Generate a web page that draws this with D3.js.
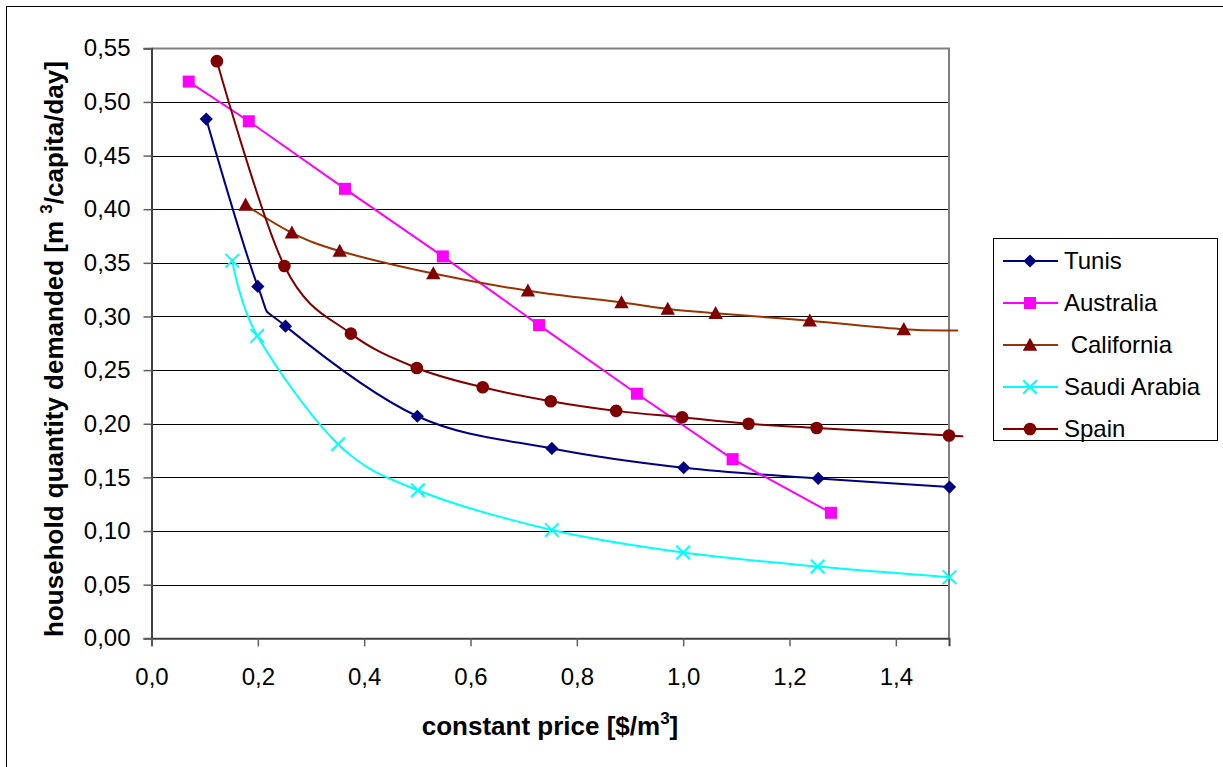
<!DOCTYPE html>
<html>
<head>
<meta charset="utf-8">
<script src="https://cdn.jsdelivr.net/npm/d3@7"></script>
<style>
  body { margin: 0; background: #fff; }
  svg { display: block; font-family: "Liberation Sans", Arial, sans-serif; }
</style>
</head>
<body>
<svg id="chart" width="1223" height="767"></svg>
<script>
// values
const tunisX = [0.103, 0.200, 0.252, 0.500, 0.753, 1.001, 1.254, 1.501];
const tunisY = [0.484, 0.328, 0.291, 0.207, 0.177, 0.159, 0.149, 0.141];

const australiaX = [0.070, 0.183, 0.364, 0.548, 0.729, 0.913, 1.093, 1.278];
const australiaY = [0.519, 0.482, 0.419, 0.356, 0.292, 0.228, 0.167, 0.117];

const californiaX = [0.177, 0.264, 0.354, 0.530, 0.708, 0.884, 0.971, 1.061, 1.238, 1.415];
const californiaY = [0.404, 0.378, 0.361, 0.340, 0.324, 0.313, 0.307, 0.303, 0.296, 0.288];
// line runs a bit past the last tick without a marker
const californiaTail = [1.517, 0.287];

const saudiX = [0.152, 0.199, 0.351, 0.501, 0.753, 1.000, 1.253, 1.501];
const saudiY = [0.352, 0.282, 0.181, 0.138, 0.101, 0.080, 0.067, 0.057];

const spainX = [0.123, 0.250, 0.375, 0.499, 0.623, 0.751, 0.874, 0.998, 1.123, 1.251, 1.500];
const spainY = [0.538, 0.347, 0.284, 0.252, 0.234, 0.221, 0.212, 0.206, 0.200, 0.196, 0.189];
const spainTail = [1.517, 0.1887];

const xTicks = [0, 0.2, 0.4, 0.6, 0.8, 1.0, 1.2, 1.4];
const xTickLabels = ["0,0", "0,2", "0,4", "0,6", "0,8", "1,0", "1,2", "1,4"];
const yTicks = [0, 0.05, 0.10, 0.15, 0.20, 0.25, 0.30, 0.35, 0.40, 0.45, 0.50, 0.55];
const yTickLabels = ["0,00", "0,05", "0,10", "0,15", "0,20", "0,25", "0,30", "0,35", "0,40", "0,45", "0,50", "0,55"];

const zip = (xs, ys) => xs.map((x, i) => [x, ys[i]]);

const series = [
  {name: "Tunis", pts: zip(tunisX, tunisY), tail: null, line: "#000080", fill: "#000080", marker: "diamond", smooth: true},
  {name: "Australia", pts: zip(australiaX, australiaY), tail: null, line: "#ff00ff", fill: "#ff00ff", marker: "square", smooth: false},
  {name: " California", pts: zip(californiaX, californiaY), tail: californiaTail, line: "#993300", fill: "#800000", marker: "triangle", smooth: true},
  {name: "Saudi Arabia", pts: zip(saudiX, saudiY), tail: null, line: "#00ffff", fill: "#00ffff", marker: "cross", smooth: true},
  {name: "Spain", pts: zip(spainX, spainY), tail: spainTail, line: "#800000", fill: "#800000", marker: "circle", smooth: true}
];

const svg = d3.select("#chart");

// outer chart frame (right/bottom edges fall outside the picture)
svg.append("rect")
  .attr("x", 6.5).attr("y", 6.5)
  .attr("width", 1230).attr("height", 780)
  .attr("fill", "none").attr("stroke", "#000");

const plot = {left: 151.5, right: 949, top: 48.3, bottom: 638.3};

const x = d3.scaleLinear().domain([0, 1.5]).range([plot.left, plot.right]);
const y = d3.scaleLinear().domain([0, 0.55]).range([plot.bottom, plot.top]);

// gridlines
svg.append("g")
  .selectAll("line")
  .data(yTicks.slice(1))
  .join("line")
  .attr("x1", plot.left).attr("x2", plot.right)
  .attr("y1", d => Math.round(y(d)) + 0.5).attr("y2", d => Math.round(y(d)) + 0.5)
  .attr("stroke", "#000").attr("stroke-width", 1);

// plot area border, top and right
svg.append("path")
  .attr("d", `M${plot.left},${Math.round(plot.top) + 0.5}H${plot.right}V${plot.bottom}`)
  .attr("fill", "none").attr("stroke", "#808080").attr("stroke-width", 2);

const yAxis = svg.append("g")
  .attr("transform", `translate(${plot.left},0)`)
  .call(d3.axisLeft(y).tickValues(yTicks).tickSize(8).tickPadding(13)
    .tickFormat((d, i) => yTickLabels[i]));

const xAxis = svg.append("g")
  .attr("transform", `translate(0,${plot.bottom})`)
  .call(d3.axisBottom(x).tickValues(xTicks).tickSize(8).tickPadding(22)
    .tickFormat((d, i) => xTickLabels[i]));

[yAxis, xAxis].forEach(a => {
  a.select(".domain").attr("stroke", "#404040").attr("stroke-width", 2);
  a.selectAll(".tick line").attr("stroke", "#606060").attr("stroke-width", 1.5);
  a.selectAll(".tick text")
    .attr("font-family", "Liberation Sans, Arial, sans-serif")
    .attr("font-size", 24).attr("fill", "#000");
});
xAxis.selectAll(".tick text").attr("dy", "0.71em");

// markers
function drawMarker(g, type, color) {
  if (type === "diamond") {
    g.append("path").attr("d", "M0,-6.6L6.6,0L0,6.6L-6.6,0Z").attr("fill", color);
  } else if (type === "square") {
    g.append("rect").attr("x", -6).attr("y", -6).attr("width", 12).attr("height", 12).attr("fill", color);
  } else if (type === "triangle") {
    g.append("path").attr("d", "M0,-7.3L7.2,5.8L-7.2,5.8Z").attr("fill", color);
  } else if (type === "circle") {
    g.append("circle").attr("r", 6.3).attr("fill", color);
  } else if (type === "cross") {
    g.append("path").attr("d", "M-6.8,-6.8L6.8,6.8M-6.8,6.8L6.8,-6.8")
      .attr("stroke", color).attr("stroke-width", 2).attr("fill", "none");
  }
}

const smoothLine = d3.line().x(d => x(d[0])).y(d => y(d[1])).curve(d3.curveCardinal.tension(0));
const straightLine = d3.line().x(d => x(d[0])).y(d => y(d[1]));

series.forEach(s => {
  const linePts = s.tail ? s.pts.concat([s.tail]) : s.pts;
  svg.append("path")
    .attr("d", (s.smooth ? smoothLine : straightLine)(linePts))
    .attr("fill", "none")
    .attr("stroke", s.line)
    .attr("stroke-width", 2);
});

series.forEach(s => {
  svg.append("g")
    .selectAll("g")
    .data(s.pts)
    .join("g")
    .attr("transform", d => `translate(${x(d[0])},${y(d[1])})`)
    .each(function () { drawMarker(d3.select(this), s.marker, s.fill); });
});

// axis titles
const xTitle = svg.append("text")
  .attr("x", 550).attr("y", 735)
  .attr("text-anchor", "middle")
  .attr("font-size", 26).attr("font-weight", "bold");
xTitle.append("tspan").text("constant price [$/m");
xTitle.append("tspan").attr("dy", -11).attr("font-size", 17).text("3");
xTitle.append("tspan").attr("dy", 11).text("]");

const yTitle = svg.append("text")
  .attr("transform", "translate(63,349) rotate(-90)")
  .attr("text-anchor", "middle")
  .attr("font-size", 26).attr("font-weight", "bold")
  .attr("xml:space", "preserve");
yTitle.append("tspan").text("household quantity demanded [m ");
yTitle.append("tspan").attr("dy", -11).attr("font-size", 17).text("3");
yTitle.append("tspan").attr("dy", 11).text("/capita/day]");

// legend
const legend = svg.append("g");
legend.append("rect")
  .attr("x", 993.5).attr("y", 238.5)
  .attr("width", 224).attr("height", 202)
  .attr("fill", "#fff").attr("stroke", "#000").attr("stroke-width", 1);

series.forEach((s, i) => {
  const ly = 261 + i * 42;
  const row = legend.append("g").attr("transform", `translate(0,${ly})`);
  row.append("line")
    .attr("x1", 1003).attr("x2", 1058)
    .attr("stroke", s.line).attr("stroke-width", 2);
  drawMarker(row.append("g").attr("transform", "translate(1030,0)"), s.marker, s.fill);
  row.append("text")
    .attr("x", 1064).attr("y", 0).attr("dy", "0.35em")
    .attr("font-size", 24)
    .attr("xml:space", "preserve")
    .style("white-space", "pre")
    .text(s.name);
});
</script>
</body>
</html>
